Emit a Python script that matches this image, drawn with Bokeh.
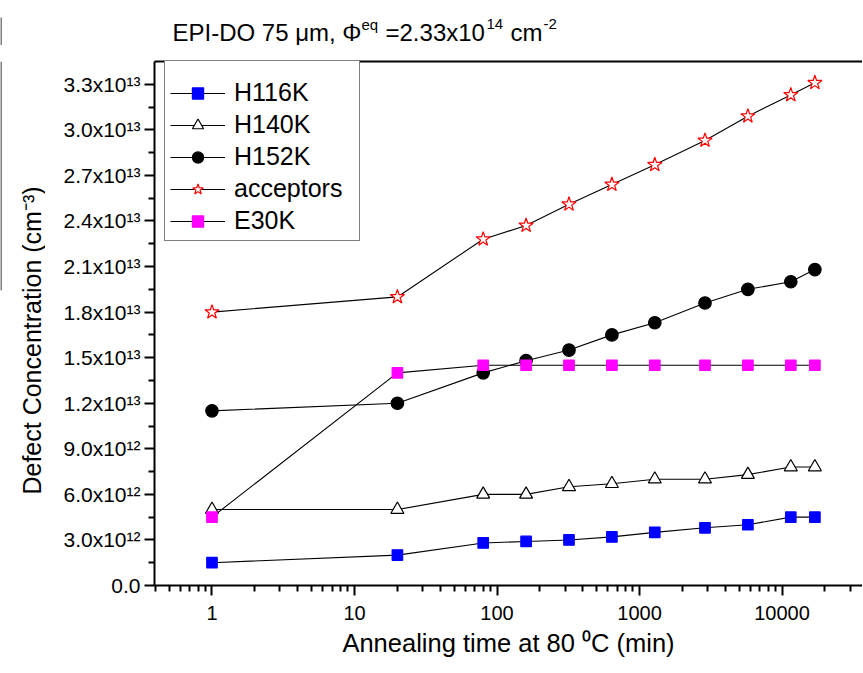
import math
from bokeh.plotting import figure
from bokeh.layouts import column, row
from bokeh.models import (Range1d, FixedTicker, LinearAxis, Legend, LegendItem)
from bokeh.core.properties import value
from bokeh.embed import file_html
from bokeh.resources import INLINE

# ---------------- data ----------------
time_min = [1, 20, 80, 160, 320, 640, 1280, 2880, 5760, 11520, 17000]
h116k = [1.5e12, 2.0e12, 2.8e12, 2.9e12, 3.0e12, 3.2e12, 3.5e12, 3.8e12, 4.0e12, 4.5e12, 4.5e12]
h140k = [5.0e12, 5.0e12, 6.0e12, 6.0e12, 6.5e12, 6.7e12, 7.0e12, 7.0e12, 7.3e12, 7.8e12, 7.8e12]
h152k = [11.5e12, 12.0e12, 14.0e12, 14.8e12, 15.5e12, 16.5e12, 17.3e12, 18.6e12, 19.5e12, 20.0e12, 20.8e12]
acceptors = [18.0e12, 19.0e12, 22.8e12, 23.7e12, 25.1e12, 26.4e12, 27.7e12, 29.3e12, 30.9e12, 32.3e12, 33.1e12]
e30k = [4.5e12, 14.0e12, 14.5e12, 14.5e12, 14.5e12, 14.5e12, 14.5e12, 14.5e12, 14.5e12, 14.5e12, 14.5e12]

y_ticks = [0, 3e12, 6e12, 9e12, 1.2e13, 1.5e13, 1.8e13, 2.1e13, 2.4e13, 2.7e13, 3.0e13, 3.3e13]
y_tick_labels = ["0.0", "3.0x10\u00b9\u00b2", "6.0x10\u00b9\u00b2", "9.0x10\u00b9\u00b2",
                 "1.2x10\u00b9\u00b3", "1.5x10\u00b9\u00b3", "1.8x10\u00b9\u00b3", "2.1x10\u00b9\u00b3",
                 "2.4x10\u00b9\u00b3", "2.7x10\u00b9\u00b3", "3.0x10\u00b9\u00b3", "3.3x10\u00b9\u00b3"]
x_ticks = [1, 10, 100, 1000, 10000]
x_tick_labels = ["1", "10", "100", "1000", "10000"]

title_main = ["EPI-DO 75 \u03bcm, \u03a6", "=2.33x10", "cm"]
title_sup = ["eq", "14", "-2"]
x_label = "Annealing time at 80 \u2070C (min)"
y_label = "Defect Concentration (cm\u207b\u00b3)"

FONT = "Liberation Sans"

# ---------------- layout sizes (page px) ----------------
TOTAL_W = 862
TITLE_H = 45
LAB_W = 45
MAIN_W = TOTAL_W - LAB_W
MAIN_H = 615
FRAME_LEFT, FRAME_TOP, FRAME_BOTTOM = 154, 61, 585
FRAME_H = FRAME_BOTTOM - FRAME_TOP

# ---------------- title figure ----------------
tf = figure(width=TOTAL_W, height=TITLE_H, x_range=Range1d(0, TOTAL_W), y_range=Range1d(0, TITLE_H),
            output_backend="svg", toolbar_location=None, min_border=0, title=None,
            x_axis_location=None, y_axis_location=None)
tf.grid.visible = False
tf.outline_line_color = None
main_x = [172, 385, 510]
sup_x = [361, 486, 543]
tf.text(x=main_x, y=[TITLE_H - 31.5] * 3, text=title_main, text_font=value(FONT),
        text_font_size="24px", text_color="black", text_baseline="middle", text_align="left")
tf.text(x=sup_x, y=[TITLE_H - 23.5] * 3, text=title_sup, text_font=value(FONT),
        text_font_size="15px", text_color="black", text_baseline="middle", text_align="left")
tf.line(x=[0.5, 0.5], y=[TITLE_H - 17, 0], line_color="black", line_width=1)

# ---------------- y-label figure (its frame is aligned with the main frame) ----------------
lf = figure(width=LAB_W, height=MAIN_H, x_range=Range1d(0, LAB_W), y_range=Range1d(0, FRAME_H),
            output_backend="svg", toolbar_location=None, min_border=0, title=None,
            x_axis_location=None, y_axis_location=None)
lf.grid.visible = False
lf.outline_line_color = None
lf.text(x=[31], y=[FRAME_BOTTOM - 340], text=[y_label], angle=math.pi / 2,
        text_font=value(FONT), text_font_size="25px", text_color="black",
        text_baseline="middle", text_align="center")
lf.line(x=[0.5, 0.5], y=[FRAME_H, FRAME_BOTTOM - 290], line_color="black", line_width=1)

# ---------------- main figure ----------------
p = figure(width=MAIN_W, height=MAIN_H, x_axis_type="log",
           x_range=Range1d(0.395, 36700), y_range=Range1d(0, 3.45e13),
           output_backend="svg", toolbar_location=None, title=None,
           min_border_left=FRAME_LEFT - LAB_W, min_border_right=0,
           min_border_top=FRAME_TOP - TITLE_H, min_border_bottom=TITLE_H + MAIN_H - FRAME_BOTTOM)
p.grid.visible = False
p.outline_line_color = None

xa = p.xaxis[0]
minor_x = [k * 10 ** d for d in range(-1, 5) for k in range(2, 10)]
minor_x = [m for m in minor_x if 0.395 <= m <= 36700]
xa.ticker = FixedTicker(ticks=x_ticks, minor_ticks=minor_x)
xa.major_label_overrides = {t: l for t, l in zip(x_ticks, x_tick_labels)}
xa.axis_label = x_label

ya = p.yaxis[0]
minor_y = [t + 1.5e12 for t in y_ticks if t + 1.5e12 < 3.45e13]
ya.ticker = FixedTicker(ticks=y_ticks, minor_ticks=minor_y)
ya.major_label_overrides = {t: l for t, l in zip(y_ticks, y_tick_labels)}

for ax in (xa, ya):
    ax.axis_line_width = 2
    ax.axis_line_color = "black"
    ax.major_tick_line_width = 2
    ax.minor_tick_line_width = 2
    ax.major_tick_out = 10
    ax.major_tick_in = 0
    ax.minor_tick_out = 6
    ax.minor_tick_in = 0
    ax.major_label_text_font = FONT
    ax.major_label_text_color = "black"
    ax.axis_label_text_font = FONT
    ax.axis_label_text_font_size = "25.5px"
    ax.axis_label_text_font_style = "normal"
    ax.axis_label_text_color = "black"

xa.major_label_text_font_size = "20px"
ya.major_label_text_font_size = "21px"
xa.major_label_standoff = 10
xa.axis_label_standoff = 6
ya.major_label_standoff = 4

top = LinearAxis(ticker=FixedTicker(ticks=[]), major_tick_out=0, minor_tick_out=0,
                 major_label_text_font_size="0px", axis_line_width=2, axis_line_color="black")
p.add_layout(top, "above")

series = [
    ("H116K", h116k, "square", "#0000ff", "#0000ff", 10.5),
    ("H140K", h140k, "triangle", "white", "black", 13),
    ("H152K", h152k, "circle", "black", "black", 12.5),
    ("acceptors", acceptors, "star", "white", "#ff0000", 15),
    ("E30K", e30k, "square", "#ff00ff", "#ff00ff", 10.5),
]
items = []
for name, ys, marker, fc, lc, sz in series:
    ln = p.line(time_min, ys, line_color="black", line_width=1.1)
    sc = p.scatter(time_min, ys, marker=marker, size=sz, fill_color=fc, line_color=lc, line_width=1.2)
    items.append(LegendItem(label=name, renderers=[ln, sc]))

legend = Legend(items=items, location=(10, FRAME_BOTTOM - 241))
legend.label_text_font = FONT
legend.label_text_font_size = "25px"
legend.label_text_color = "black"
legend.glyph_width = 55
legend.glyph_height = 28
legend.label_height = 28
legend.label_width = 120
legend.label_standoff = 9
legend.spacing = 3
legend.padding = 5
legend.title = " "
legend.title_text_font_size = "8px"
legend.title_standoff = 4
legend.border_line_color = "black"
legend.border_line_width = 1
legend.background_fill_color = "white"
legend.background_fill_alpha = 1
p.add_layout(legend, "center")

layout = column(tf, row(lf, p))
open("out.html", "w").write(file_html(layout, INLINE))
